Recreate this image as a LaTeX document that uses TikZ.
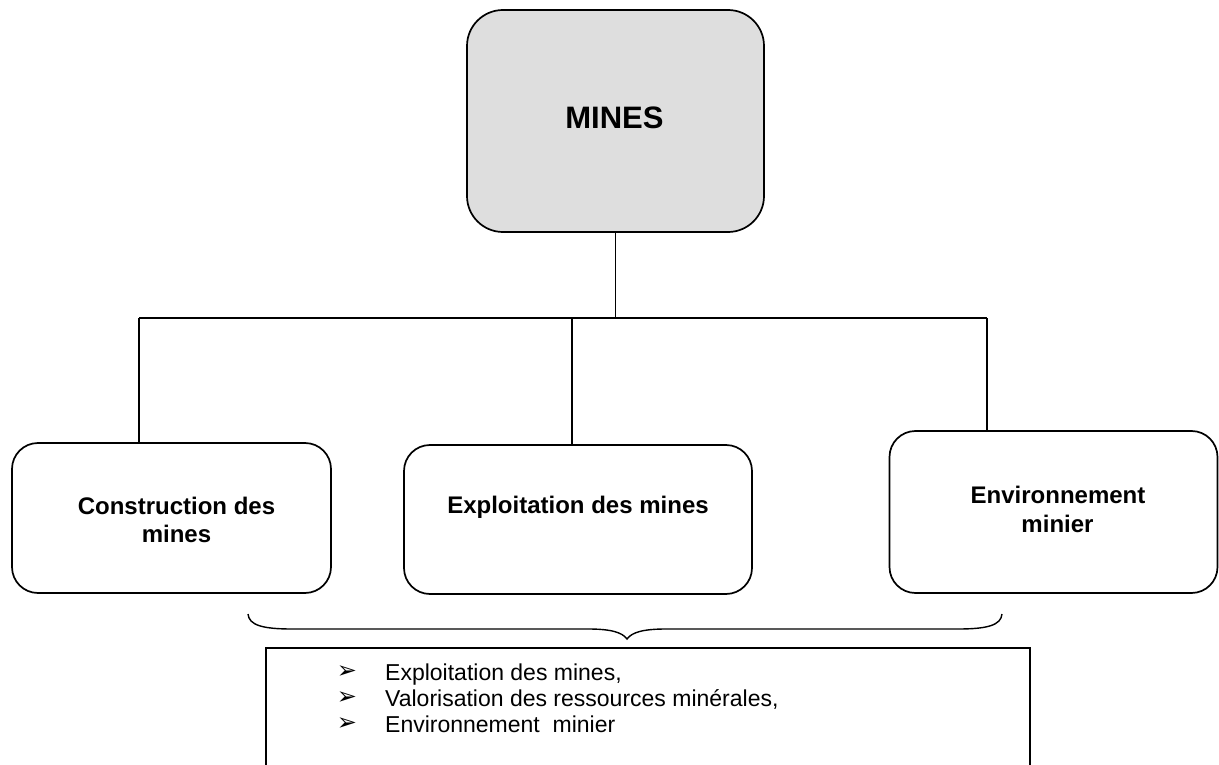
\documentclass[tikz,border=0pt]{standalone}
\usepackage{fontspec}
\setmainfont{Liberation Sans}
\newfontfamily\dejavu{DejaVu Sans}
\begin{document}
\begin{tikzpicture}[x=1pt,y=-1pt,
  rbox/.style={draw=black, line width=1.7pt, rounded corners=26pt, inner sep=0pt},
  conn/.style={draw=black, line width=1.5pt},
  head/.style={inner sep=0pt, anchor=base, font=\fontsize{24}{28}\selectfont\bfseries},
  item/.style={inner sep=0pt, anchor=base west, font=\fontsize{23}{26}\selectfont},
  arr/.style={inner sep=0pt, anchor=center, font=\dejavu\fontsize{24}{24}\selectfont}]
\useasboundingbox (0,0) rectangle (1219,765);
% top box
\node[rbox, rounded corners=36pt, fill=gray!26, minimum width=297pt, minimum height=222pt] (mines) at (615.5,121) {};
\node[inner sep=0pt, anchor=base, font=\fontsize{31}{34}\selectfont\bfseries] (tmines) at (614.5,129) {MINES};
% three boxes
\node[rbox, minimum width=319pt, minimum height=150pt] (b1) at (171.5,518) {};
\node[rbox, minimum width=348pt, minimum height=149pt] (b2) at (578,519.5) {};
\node[rbox, minimum width=328pt, minimum height=162pt] (b3) at (1053.5,512) {};
\node[head] (t1a) at (176.5,514) {Construction des};
\node[head] (t1b) at (176.5,542) {mines};
\node[head] (t2) at (578,513) {Exploitation des mines};
\node[head] (t3a) at (1058,503) {Environnement};
\node[head] (t3b) at (1057.5,532) {minier};
% connectors
\coordinate (j) at (615.5,318);
\coordinate (hl) at (139,318);
\coordinate (hm) at (572,318);
\coordinate (hr) at (987,318);
\draw[conn] (mines.south) -- (j);
\draw[conn] (hl) -- (hr);
\draw[conn] (hl) -- (hl |- b1.north);
\draw[conn] (hm) -- (hm |- b2.north);
\draw[conn] (hr) -- (hr |- b3.north);
% brace
\coordinate (bl) at (248,614);
\coordinate (br) at (1002,614);
\coordinate (tip) at (627,639);
\draw[line width=1.4pt] (bl) .. controls (249,625) and (262,629) .. (292,629) -- (588,629)
  .. controls (610,629) and (622,632) .. (tip)
  .. controls (632,632) and (644,629) .. (666,629) -- (958,629)
  .. controls (988,629) and (1001,625) .. (br);
% list box (open at the bottom of the picture)
\node[draw=black, line width=1.6pt, inner sep=0pt, anchor=north west, minimum width=764pt, minimum height=160pt] (list) at (265,647) {};
\node[arr] (a1) at (347,672.5) {➢};
\node[arr] (a2) at (347,698.5) {➢};
\node[arr] (a3) at (347,724.5) {➢};
\node[item] (l1) at (385,680) {Exploitation des mines,};
\node[item] (l2) at (385,706) {Valorisation des ressources minérales,};
\node[item] (l3) at (385,732) {Environnement~ minier};
\end{tikzpicture}
\end{document}
